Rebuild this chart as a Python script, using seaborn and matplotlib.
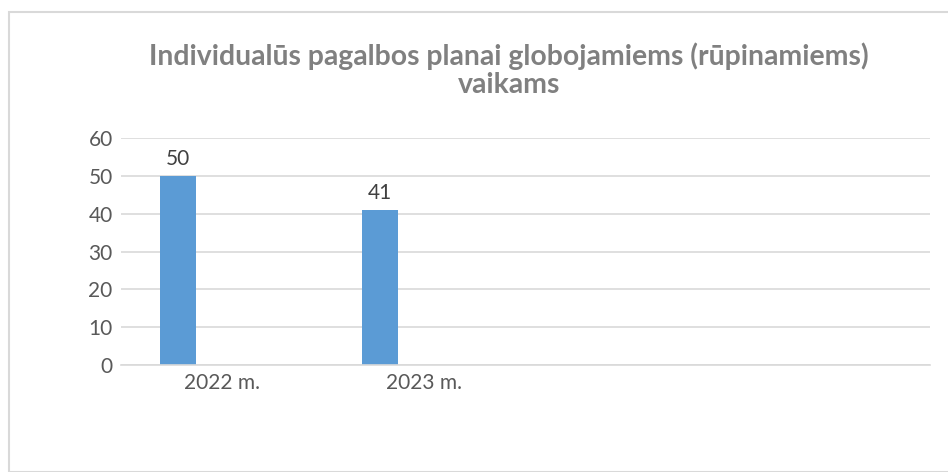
import pandas as pd
import numpy as np
import seaborn as sns
import matplotlib.pyplot as plt
from matplotlib.patches import Rectangle

# Duomenys
metai = ["2022 m.", "2023 m."]
planai = [50, 41]
kategorijos = ["2022 m.", "2023 m.", "", " "]
serijos = ["Serija 1", "Serija 2", "Serija 3"]

# tuščios serijos (Excel diagramoje jos nieko nerodo)
df = pd.DataFrame({
    "Metai": metai * 3,
    "Planai": planai + [np.nan] * 4,
    "Serija": [s for s in serijos for _ in metai],
})

sns.set_style("white")
plt.rcParams['font.family'] = ['Lato', 'DejaVu Sans']

fig = plt.figure(figsize=(9.48, 4.72), dpi=100)
ax = fig.add_axes([121 / 948, 1 - 365 / 472, (930 - 121) / 948, (365 - 138) / 472])

sns.barplot(data=df, x="Metai", y="Planai", hue="Serija", order=kategorijos,
            hue_order=serijos, palette=["#5B9BD5", "#ED7D31", "#A5A5A5"],
            saturation=1, width=0.654, gap=0.18, linewidth=0, legend=False,
            errorbar=None, ax=ax)

# skaičiai virš stulpelių
for p in ax.patches:
    h = p.get_height()
    if np.isfinite(h) and h > 0:
        ax.text(p.get_x() + p.get_width() / 2., h + 1.8, int(h),
                ha="center", va="bottom", fontsize=15, color="#404040")

ax.set_ylim(0, 60)
ax.set_xlim(-0.5, 3.5)
ax.set_yticks(range(0, 61, 10))
ax.yaxis.grid(True, color="#D9D9D9", linewidth=1.2)
ax.set_axisbelow(True)
for s in ["top", "right", "left"]:
    ax.spines[s].set_visible(False)
ax.spines["bottom"].set_color("#D9D9D9")
ax.spines["bottom"].set_linewidth(1.2)
ax.tick_params(axis="both", length=0, labelsize=15, labelcolor="#595959")
ax.tick_params(axis="x", pad=6)
ax.tick_params(axis="y", pad=6)
ax.set_xlabel("")
ax.set_ylabel("")

fig.text(509 / 948, 1 - 70 / 472,
         "Individualūs pagalbos planai globojamiems (rūpinamiems)\nvaikams",
         ha="center", va="center", fontsize=20.4, fontweight="bold",
         color="#808080", linespacing=1.08)

# rėmelis
fig.patches.append(Rectangle((9 / 948, 0), 2, 1 - 12 / 472, transform=fig.transFigure,
                             fill=False, edgecolor="#D9D9D9", linewidth=1.5))

fig.savefig("out.png", dpi=100)
